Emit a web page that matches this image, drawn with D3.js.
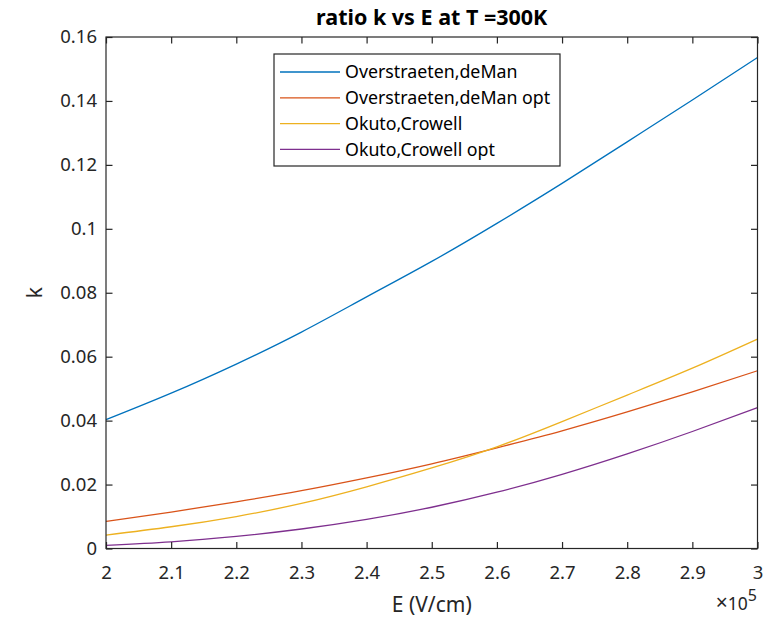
<!DOCTYPE html>
<html>
<head>
<meta charset="utf-8">
<script src="https://cdn.jsdelivr.net/npm/d3@7"></script>
<style>
  body { margin: 0; background: #fff; }
  svg text { font-family: "Noto Sans", "Open Sans", sans-serif; fill: #262626; }
</style>
</head>
<body>
<svg id="chart" width="778" height="617"></svg>
<script>
// E field in units of 1e5 V/cm
const eField = [2.0, 2.1, 2.2, 2.3, 2.4, 2.5, 2.6, 2.7, 2.8, 2.9, 3.0];

const deMan    = [0.0403, 0.0486, 0.0577, 0.0677, 0.0787, 0.0898, 0.1017, 0.1142, 0.1272, 0.1403, 0.1536];
const deManOpt = [0.0085, 0.0114, 0.0146, 0.0181, 0.0221, 0.0265, 0.0315, 0.0368, 0.0427, 0.0490, 0.0556];
const okuto    = [0.0042, 0.0068, 0.0100, 0.0141, 0.0193, 0.0252, 0.0318, 0.0397, 0.0480, 0.0564, 0.0655];
const okutoOpt = [0.0010, 0.0021, 0.0038, 0.0061, 0.0091, 0.0129, 0.0176, 0.0232, 0.0296, 0.0366, 0.0441];

const seriesNames = ['Overstraeten,deMan', 'Overstraeten,deMan opt', 'Okuto,Crowell', 'Okuto,Crowell opt'];
const seriesValues = [deMan, deManOpt, okuto, okutoOpt];
const colors = ['#0072BD', '#D95319', '#EDB120', '#7E2F8E'];

const xTicks = [2, 2.1, 2.2, 2.3, 2.4, 2.5, 2.6, 2.7, 2.8, 2.9, 3];
const yTicks = [0, 0.02, 0.04, 0.06, 0.08, 0.1, 0.12, 0.14, 0.16];

(function() {
  var svg = d3.select('#chart');
  var pLeft = 106, pRight = 757.5, pTop = 37, pBottom = 548.5;
  var axisColor = '#262626';
  var tickFont = 18.5;

  var x = d3.scaleLinear().domain([2, 3]).range([pLeft, pRight]);
  var y = d3.scaleLinear().domain([0, 0.16]).range([pBottom, pTop]);

  // lines
  var line = d3.line()
    .x(function(d) { return x(d[0]); })
    .y(function(d) { return y(d[1]); })
    .curve(d3.curveNatural);

  seriesValues.forEach(function(vals, i) {
    svg.append('path')
      .datum(eField.map(function(e, j) { return [e, vals[j]]; }))
      .attr('fill', 'none')
      .attr('stroke', colors[i])
      .attr('stroke-width', 1.3)
      .attr('d', line);
  });

  // axes (MATLAB style, ticks inward, box on)
  var tickLen = 6.5;
  function styleAxis(g) {
    g.select('.domain').remove();
    g.selectAll('line').attr('stroke', axisColor).attr('stroke-width', 1.2);
    g.selectAll('text').attr('font-size', tickFont).attr('fill', axisColor)
      .attr('font-family', '"Noto Sans", sans-serif');
  }

  svg.append('g')
    .attr('transform', 'translate(0,' + pBottom + ')')
    .call(d3.axisBottom(x).tickValues(xTicks).tickSizeInner(-tickLen).tickSizeOuter(0)
      .tickPadding(17).tickFormat(d3.format('')))
    .call(styleAxis);

  svg.append('g')
    .attr('transform', 'translate(' + pLeft + ',0)')
    .call(d3.axisLeft(y).tickValues(yTicks).tickSizeInner(-tickLen).tickSizeOuter(0)
      .tickPadding(9).tickFormat(d3.format('')))
    .call(styleAxis);

  // top and right ticks
  svg.append('g')
    .attr('transform', 'translate(0,' + pTop + ')')
    .call(d3.axisTop(x).tickValues(xTicks).tickSizeInner(-tickLen).tickSizeOuter(0).tickFormat(''))
    .call(styleAxis);
  svg.append('g')
    .attr('transform', 'translate(' + pRight + ',0)')
    .call(d3.axisRight(y).tickValues(yTicks).tickSizeInner(-tickLen).tickSizeOuter(0).tickFormat(''))
    .call(styleAxis);

  svg.append('rect')
    .attr('x', pLeft).attr('y', pTop)
    .attr('width', pRight - pLeft).attr('height', pBottom - pTop)
    .attr('fill', 'none').attr('stroke', axisColor).attr('stroke-width', 1.2);

  // titles
  svg.append('text')
    .attr('x', (pLeft + pRight) / 2).attr('y', 25)
    .attr('text-anchor', 'middle')
    .attr('font-size', 21.5).attr('font-weight', 'bold')
    .style('fill', '#000')
    .text('ratio k vs E at T =300K');

  svg.append('text')
    .attr('x', (pLeft + pRight) / 2).attr('y', 612)
    .attr('text-anchor', 'middle')
    .attr('font-size', 21)
    .text('E (V/cm)');

  svg.append('text')
    .attr('transform', 'translate(42,' + ((pTop + pBottom) / 2) + ') rotate(-90)')
    .attr('text-anchor', 'middle')
    .attr('font-size', 21)
    .text('k');

  var expo = svg.append('text')
    .attr('x', 757).attr('y', 610)
    .attr('text-anchor', 'end')
    .attr('font-size', 17.5);
  expo.append('tspan').attr('font-size', 21).text('\u00d7');
  expo.append('tspan').text('10');
  expo.append('tspan').attr('dy', -9).attr('font-size', 16).text('5');

  // legend
  var lg = svg.append('g').attr('transform', 'translate(274,54)');
  lg.append('rect')
    .attr('width', 286).attr('height', 112)
    .attr('fill', '#fff').attr('stroke', axisColor).attr('stroke-width', 1.2);

  seriesNames.forEach(function(name, i) {
    var yy = 18 + i * 25.8;
    lg.append('line')
      .attr('x1', 6).attr('x2', 66)
      .attr('y1', yy).attr('y2', yy)
      .attr('stroke', colors[i]).attr('stroke-width', 1.3);
    lg.append('text')
      .attr('x', 71).attr('y', yy)
      .attr('dy', '0.35em')
      .attr('font-size', 17.8)
      .style('fill', '#000')
      .text(name);
  });
})();
</script>
</body>
</html>
